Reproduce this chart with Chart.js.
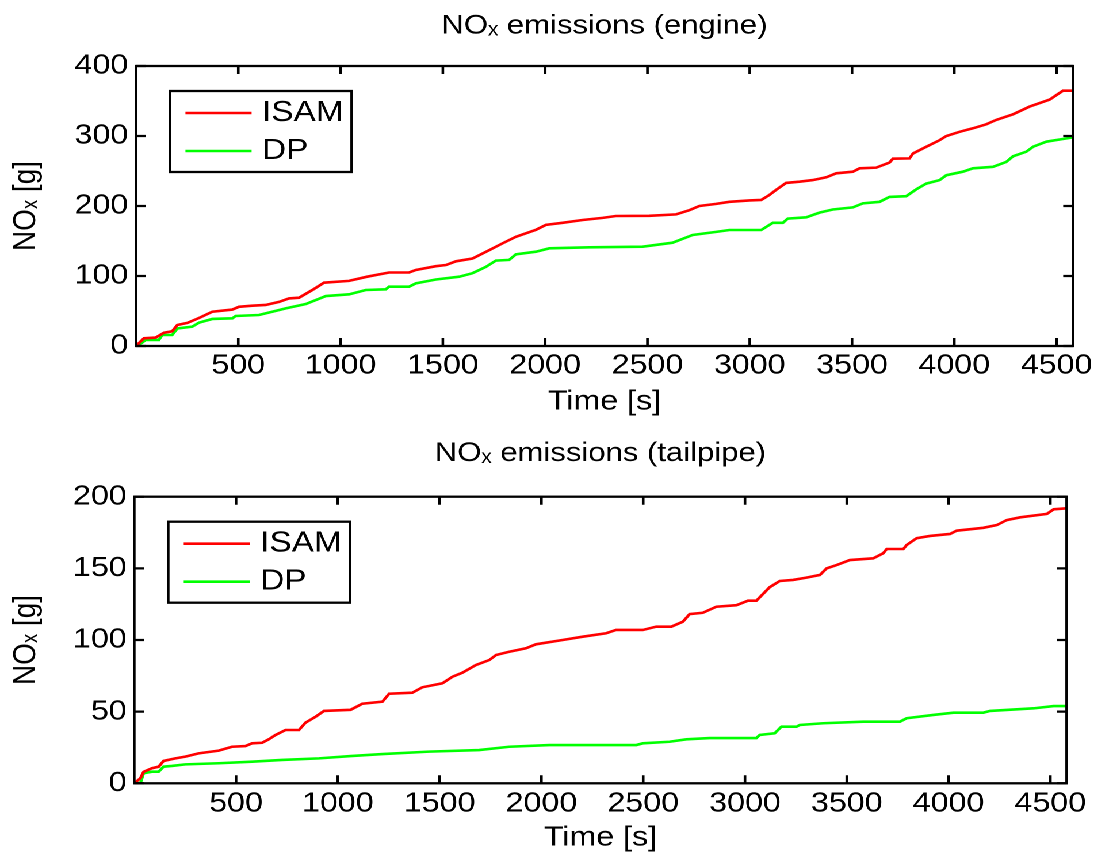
<!DOCTYPE html>
<html>
<head>
<meta charset="utf-8">
<title>NOx emissions</title>
<script src="https://cdn.jsdelivr.net/npm/chart.js@4.4.1/dist/chart.umd.min.js"></script>
<style>
  html, body { margin: 0; padding: 0; background: #fff; overflow: hidden; }
  /* the figure is laid out 964px wide and widened to the full 1109px */
  #figure { position: absolute; left: 0; top: 0; width: 964px; height: 856px;
            transform: scaleX(1.1504); transform-origin: 0 0; }
  .panel { position: absolute; left: 0; width: 964px; height: 428px; }
</style>
</head>
<body>
<div id="figure">
  <div class="panel" style="top:0"><canvas id="engine"></canvas></div>
  <div class="panel" style="top:428px"><canvas id="tailpipe"></canvas></div>
</div>
<script>
// ---- cumulative NOx, engine out [g] ----
const engineIsamTime = [0, 39, 96, 137, 177, 202, 251, 308, 373, 471, 503, 569, 634, 699, 748, 797, 862, 919,
  1041, 1130, 1237, 1335, 1368, 1466, 1515, 1564, 1645, 1727, 1792, 1857, 1955, 2004, 2085, 2183, 2281, 2346,
  2509, 2640, 2705, 2754, 2836, 2901, 2999, 3056, 3096, 3129, 3178, 3243, 3308, 3374, 3423, 3504, 3537, 3618,
  3683, 3700, 3781, 3798, 3863, 3928, 3961, 4026, 4091, 4156, 4205, 4287, 4368, 4466, 4531, 4580];
const engineIsamNox = [0, 11, 12, 19, 21, 30, 33, 40, 49, 52, 56, 57.6, 58.6, 63, 68, 69, 80, 90.5,
  93, 99, 105, 105, 108.6, 114, 115.7, 121, 125, 137, 146.7, 156, 166, 173, 176, 180, 183, 185.7,
  186, 188, 194, 200, 203, 206, 208, 208.6, 215.7, 223, 233, 234.7, 237, 241, 246.7, 249, 253.8, 254.8,
  262, 267.6, 268, 275, 284.7, 294, 300, 306, 311, 316.7, 323, 331, 342, 352, 364.7, 364.7];

const engineDpTime = [0, 14, 47, 112, 128, 177, 202, 275, 308, 373, 471, 487, 601, 666, 732, 830, 928,
  1042, 1123, 1221, 1237, 1335, 1368, 1466, 1580, 1645, 1710, 1759, 1824, 1857, 1955, 2020, 2216, 2477,
  2623, 2721, 2836, 2901, 3056, 3113, 3162, 3186, 3276, 3341, 3406, 3504, 3553, 3635, 3683, 3765, 3814,
  3863, 3928, 3961, 4042, 4091, 4189, 4254, 4287, 4352, 4385, 4450, 4515, 4580];
const engineDpNox = [0, 1.4, 8.6, 8.6, 15.7, 15.7, 25, 27.6, 33.3, 38.6, 39.5, 42.9, 44.3, 49, 53.8, 60, 71.4,
  73.8, 80, 81, 84.8, 84.8, 89.5, 95, 99, 104, 113, 122, 123, 131, 134.7, 139.5, 141, 141.9,
  147.6, 158.6, 163, 165.7, 165.7, 176, 176, 182, 183.8, 190.5, 195, 198, 203.8, 206, 213, 214, 223.8,
  232, 237, 244, 249, 253.8, 256, 263, 271, 277.6, 284.7, 291.9, 295, 298];

// ---- cumulative NOx, tailpipe [g] ----
const tailIsamTime = [0, 30, 46, 87, 120, 144, 202, 251, 316, 415, 480, 546, 579, 628, 661, 694, 743, 809,
  841, 891, 932, 1063, 1120, 1219, 1252, 1366, 1415, 1514, 1563, 1612, 1678, 1744, 1777, 1842, 1924, 1973,
  2104, 2203, 2318, 2367, 2498, 2564, 2638, 2695, 2728, 2793, 2859, 2958, 3015, 3056, 3121, 3171, 3236,
  3302, 3368, 3401, 3450, 3515, 3630, 3679, 3696, 3778, 3794, 3843, 3909, 4007, 4040, 4171, 4237, 4286,
  4352, 4483, 4516, 4580];
const tailIsamNox = [0, 3.5, 8, 10.5, 11.6, 15.6, 17.4, 18.6, 20.9, 22.8, 25.5, 26, 27.9, 28.3, 30.7, 33.7, 37.2, 37.2,
  42.3, 46.5, 50.5, 51.3, 55.5, 57, 62.5, 63.2, 67, 69.8, 74.4, 77.2, 82.5, 86, 89.5, 91.8, 94.2, 97,
  100, 102.3, 104.7, 107, 107, 109.3, 109.3, 112.8, 118.1, 119, 123.2, 124.3, 127.4, 127.4, 136.8, 141.2, 141.9,
  143.5, 145.4, 150, 152.3, 155.8, 157, 160.5, 163.5, 163.5, 166.3, 171, 172.6, 174, 176.3, 178.3, 180.2, 183.7,
  185.6, 188, 191.2, 191.9];

const tailDpTime = [0, 30, 46, 87, 120, 144, 185, 251, 415, 579, 726, 907, 1063, 1219, 1448, 1694, 1842,
  2039, 2466, 2498, 2629, 2712, 2826, 3056, 3072, 3146, 3179, 3253, 3269, 3384, 3581, 3761, 3794, 3925,
  4024, 4171, 4204, 4417, 4516, 4580];
const tailDpNox = [0, 0, 7, 8.1, 8.1, 11.6, 12.1, 13.2, 14, 15.1, 16.3, 17.4, 19, 20.4, 22.1, 23.2, 25.5,
  26.7, 26.7, 27.9, 29, 30.7, 31.6, 31.6, 33.7, 34.9, 39.5, 39.5, 40.7, 41.9, 43, 43, 45.4, 47.7,
  49.3, 49.3, 50.5, 52.3, 53.9, 53.9];

// ---- axes ----
const timeMax = 4580;
const timeTicks = [500, 1000, 1500, 2000, 2500, 3000, 3500, 4000, 4500];
const engineNoxTicks = [0, 100, 200, 300, 400];
const tailNoxTicks = [0, 50, 100, 150, 200];

const isamColor = '#ff0000';
const dpColor = '#00ff00';

Chart.defaults.font.family = '"Liberation Sans", Arial, Helvetica, sans-serif';
Chart.defaults.color = '#000';

const toPoints = (t, v) => t.map((x, i) => ({ x: x, y: v[i] }));

// box around the plot with inward tick marks on all four sides
const axesBox = {
  id: 'axesBox',
  afterDatasetsDraw(chart, args, o) {
    const { ctx, chartArea: a, scales: { x, y } } = chart;
    ctx.save();
    ctx.strokeStyle = '#000';
    ctx.lineWidth = o.lineWidth;
    ctx.beginPath();
    x.ticks.forEach(t => {
      const px = x.getPixelForValue(t.value);
      ctx.moveTo(px, a.bottom); ctx.lineTo(px, a.bottom - o.xTickLen);
      ctx.moveTo(px, a.top); ctx.lineTo(px, a.top + o.xTickLen);
    });
    y.ticks.forEach(t => {
      const py = y.getPixelForValue(t.value);
      ctx.moveTo(a.left, py); ctx.lineTo(a.left + o.yTickLen, py);
      ctx.moveTo(a.right, py); ctx.lineTo(a.right - o.yTickLen, py);
    });
    ctx.stroke();
    ctx.strokeRect(a.left, a.top, a.right - a.left, a.bottom - a.top);
    ctx.restore();
  }
};

// framed legend in the upper-left corner of the plot
const boxedLegend = {
  id: 'boxedLegend',
  afterDraw(chart, args, o) {
    const { ctx, chartArea: a } = chart;
    const bx = a.left + o.left, by = a.top + o.top;
    ctx.save();
    ctx.fillStyle = '#fff';
    ctx.fillRect(bx, by, o.width, o.height);
    ctx.lineWidth = o.frameWidth;
    ctx.strokeStyle = '#000';
    ctx.strokeRect(bx, by, o.width, o.height);
    ctx.font = o.fontSize + 'px "Liberation Sans", Arial, Helvetica, sans-serif';
    ctx.textBaseline = 'middle';
    ctx.textAlign = 'left';
    chart.data.datasets.forEach((ds, i) => {
      const ry = by + o.rows[i];
      ctx.strokeStyle = ds.borderColor;
      ctx.lineWidth = ds.borderWidth;
      ctx.beginPath();
      ctx.moveTo(bx + o.lineFrom, ry);
      ctx.lineTo(bx + o.lineTo, ry);
      ctx.stroke();
      ctx.fillStyle = '#000';
      ctx.fillText(ds.label, bx + o.textX, ry);
    });
    ctx.restore();
  }
};

function makePanel(id, p) {
  return new Chart(document.getElementById(id), {
    type: 'line',
    data: {
      datasets: [
        { label: 'ISAM', data: toPoints(p.isamT, p.isamV), borderColor: isamColor, borderWidth: 2.6,
          pointRadius: 0, tension: 0, fill: false },
        { label: 'DP', data: toPoints(p.dpT, p.dpV), borderColor: dpColor, borderWidth: 2.6,
          pointRadius: 0, tension: 0, fill: false }
      ]
    },
    options: {
      responsive: true,
      maintainAspectRatio: false,
      devicePixelRatio: 2,
      animation: false,
      events: [],
      layout: { padding: { left: 0, right: p.padRight, top: 0, bottom: p.padBottom } },
      plugins: {
        legend: { display: false },
        tooltip: { enabled: false },
        title: {
          display: true, text: p.title, fullSize: false, color: '#000',
          font: { size: 27, weight: 'normal', lineHeight: 1.2 },
          padding: { top: p.titleTop, bottom: p.titleBottom }
        },
        axesBox: { lineWidth: 2.3, xTickLen: 8, yTickLen: 8.5 },
        boxedLegend: { left: 29.5, top: 25, width: 158, height: 81, frameWidth: 2.3,
          lineFrom: 13.5, lineTo: 71, textX: 80, rows: [22, 60], fontSize: 29 }
      },
      scales: {
        x: {
          type: 'linear', min: 0, max: timeMax,
          afterBuildTicks: s => { s.ticks = timeTicks.map(v => ({ value: v })); },
          afterFit: s => { s.height = p.xHeight; },
          grid: { display: false, drawTicks: false },
          border: { display: false },
          ticks: { padding: p.xTickPad, color: '#000', font: { size: 28, lineHeight: 1.2 },
            maxRotation: 0, autoSkip: false, callback: v => String(v) },
          title: { display: true, text: 'Time [s]', color: '#000',
            font: { size: 28, lineHeight: 1.2 }, padding: 0 }
        },
        y: {
          type: 'linear', min: 0, max: p.yMax,
          afterBuildTicks: s => { s.ticks = p.yTicks.map(v => ({ value: v })); },
          afterFit: s => { s.width = p.yWidth; },
          grid: { display: false, drawTicks: false },
          border: { display: false },
          ticks: { padding: p.yTickPad, color: '#000', font: { size: 28, lineHeight: 1.2 },
            autoSkip: false, callback: v => String(v) },
          title: { display: true, text: 'NOₓ [g]', color: '#000',
            font: { size: 28, lineHeight: 1.2 }, padding: { top: 5.8, bottom: 0 } }
        }
      }
    },
    plugins: [axesBox, boxedLegend]
  });
}

makePanel('engine', {
  title: 'NOₓ emissions (engine)',
  isamT: engineIsamTime, isamV: engineIsamNox, dpT: engineDpTime, dpV: engineDpNox,
  yMax: 400, yTicks: engineNoxTicks,
  padRight: 31.3, padBottom: 9.2, titleTop: 10, titleBottom: 23.6,
  xHeight: 72.8, yWidth: 118.2, xTickPad: 3.2, yTickPad: 6.7
});

makePanel('tailpipe', {
  title: 'NOₓ emissions (tailpipe)',
  isamT: tailIsamTime, isamV: tailIsamNox, dpT: tailDpTime, dpV: tailDpNox,
  yMax: 200, yTicks: tailNoxTicks,
  padRight: 36.8, padBottom: 1.2, titleTop: 9.4, titleBottom: 26.9,
  xHeight: 71.5, yWidth: 116.7, xTickPad: 3.9, yTickPad: 6.6
});
</script>
</body>
</html>
